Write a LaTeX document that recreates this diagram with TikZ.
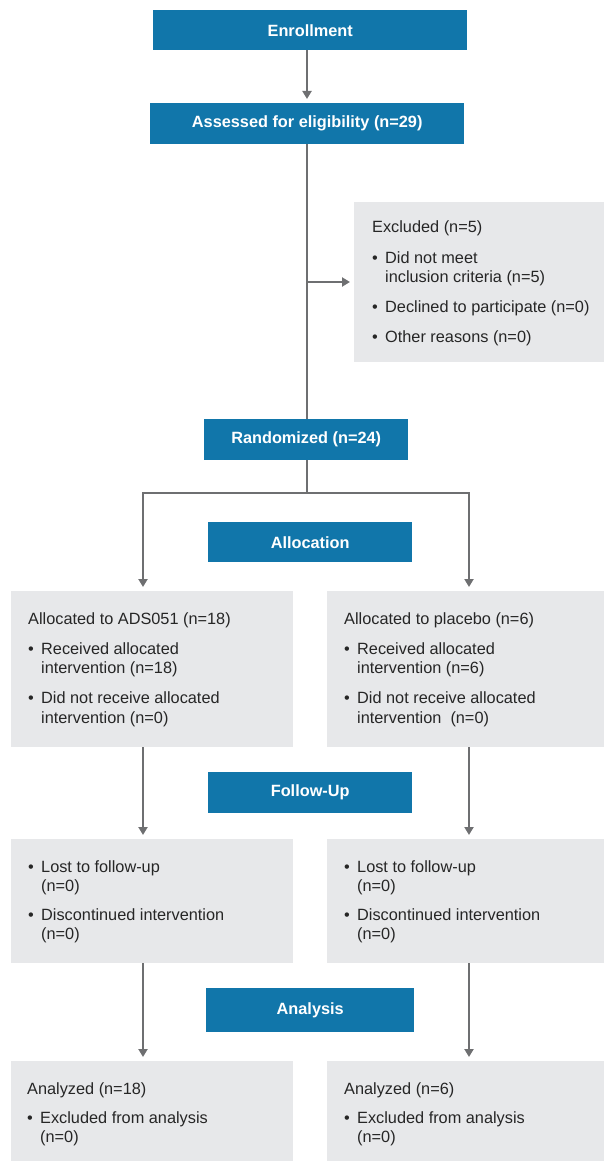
\documentclass[tikz,border=0pt]{standalone}
\usepackage{fontspec}
\setmainfont{Liberation Sans}
\usetikzlibrary{arrows.meta,calc}
\definecolor{hdrblue}{RGB}{17,118,170}
\definecolor{boxgray}{RGB}{231,232,234}
\definecolor{arrgray}{RGB}{110,111,113}
\newcommand\bul[2]{\makebox[13pt][l]{•}#1\\\hspace*{13pt}#2}
\newcommand\bone[1]{\makebox[13pt][l]{•}#1}
\newcommand\tbox[1]{\begin{tabular}[t]{@{}l@{}}#1\end{tabular}}
\begin{document}
\begin{tikzpicture}[x=1pt,y=-1pt,
  hdr/.style={fill=hdrblue, text=white, font=\bfseries\fontsize{16.3}{19.5}\selectfont, inner sep=0pt, anchor=north west},
  gbox/.style={fill=boxgray, inner sep=0pt, anchor=north west},
  btxt/.style={anchor=base west, inner sep=0pt, font=\fontsize{16.3}{19.5}\selectfont, text=black!85},
  conn/.style={draw=arrgray, line width=2pt},
  arr/.style={conn, -{Triangle[width=9pt,length=8pt]}, shorten >=4pt}]
\useasboundingbox (0,0) rectangle (604,1161);

% headers
\node[hdr, minimum width=314pt, minimum height=40pt] (enroll) at (153,10) {Enrollment};
\node[hdr, minimum width=314pt, minimum height=41pt] (assess) at (150,103) {Assessed for eligibility (n=29)};
\node[hdr, minimum width=204pt, minimum height=41pt] (rand) at (204,419) {Randomized (n=24)};
\node[hdr, minimum width=204pt, minimum height=40pt] (alloc) at (208,522) {Allocation};
\node[hdr, minimum width=204pt, minimum height=41pt] (follow) at (208,772) {Follow-Up};
\node[hdr, minimum width=208pt, minimum height=44pt] (anal) at (206,988) {Analysis};

% gray boxes
\node[gbox, minimum width=250pt, minimum height=160pt] (excl) at (354,202) {};
\node[gbox, minimum width=282pt, minimum height=156pt] (L1) at (11,591) {};
\node[gbox, minimum width=277pt, minimum height=156pt] (R1) at (327,591) {};
\node[gbox, minimum width=282pt, minimum height=124pt] (L2) at (11,839) {};
\node[gbox, minimum width=277pt, minimum height=124pt] (R2) at (327,839) {};
\node[gbox, minimum width=282pt, minimum height=100pt] (L3) at (11,1061) {};
\node[gbox, minimum width=277pt, minimum height=100pt] (R3) at (327,1061) {};

% texts
\node[btxt] (exclt) at (372,233) {\tbox{Excluded (n=5)\\[10.5pt]\bul{Did not meet}{inclusion criteria (n=5)}\\[10.5pt]\bone{Declined to participate (n=0)}\\[10.5pt]\bone{Other reasons (n=0)}}};
\node[btxt] (L1t) at (28,624) {\tbox{Allocated to ADS051 (n=18)\\[10.5pt]\bul{Received allocated}{intervention (n=18)}\\[10.5pt]\bul{Did not receive allocated}{intervention (n=0)}}};
\node[btxt] (R1t) at (344,624) {\tbox{Allocated to placebo (n=6)\\[10.5pt]\bul{Received allocated}{intervention (n=6)}\\[10.5pt]\bul{Did not receive allocated}{intervention\ \ (n=0)}}};
\node[btxt] (L2t) at (28,872) {\tbox{\bul{Lost to follow-up}{(n=0)}\\[9pt]\bul{Discontinued intervention}{(n=0)}}};
\node[btxt] (R2t) at (344,872) {\tbox{\bul{Lost to follow-up}{(n=0)}\\[9pt]\bul{Discontinued intervention}{(n=0)}}};
\node[btxt] (L3t) at (27,1094) {\tbox{Analyzed (n=18)\\[9.5pt]\bul{Excluded from analysis}{(n=0)}}};
\node[btxt] (R3t) at (344,1094) {\tbox{Analyzed (n=6)\\[9.5pt]\bul{Excluded from analysis}{(n=0)}}};

% connector coordinates
\coordinate (spine) at (307,0);
\coordinate (exbr) at (307,282);
\coordinate (split) at (307,493);
\coordinate (lcol) at (143,493);
\coordinate (rcol) at (469,493);

% connectors
\draw[arr] (enroll.south -| spine) -- (assess.north -| spine);
\draw[conn] (assess.south -| spine) -- (rand.north -| spine);
\draw[arr] (exbr) -- (excl.west |- exbr);
\draw[conn] (rand.south -| spine) -- (split);
\draw[arr] (split) -- (lcol) -- (L1.north -| lcol);
\draw[arr] (split) -- (rcol) -- (R1.north -| rcol);
\draw[arr] (L1.south -| lcol) -- (L2.north -| lcol);
\draw[arr] (R1.south -| rcol) -- (R2.north -| rcol);
\draw[arr] (L2.south -| lcol) -- (L3.north -| lcol);
\draw[arr] (R2.south -| rcol) -- (R3.north -| rcol);
\end{tikzpicture}
\end{document}
